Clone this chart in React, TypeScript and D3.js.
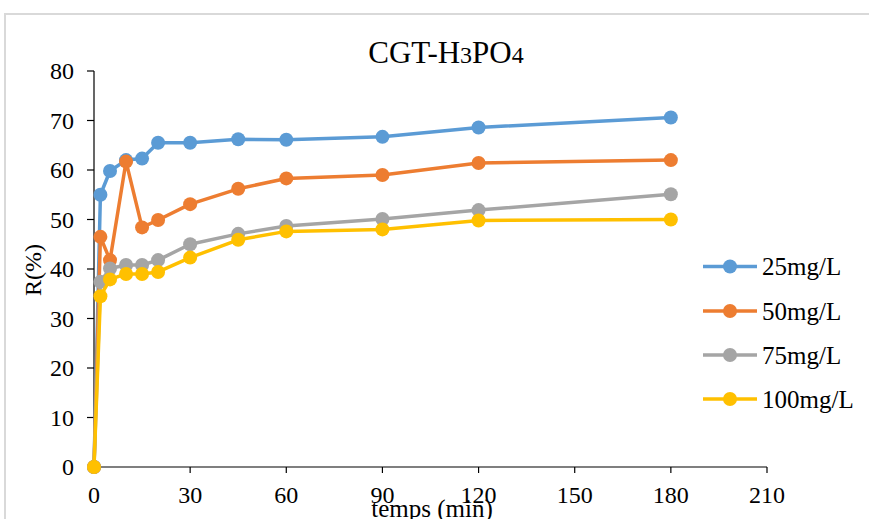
import React from "react";
import * as d3 from "d3";

// Contact time (min) and removal efficiency R(%) for each initial concentration
const times = [0, 2, 5, 10, 15, 20, 30, 45, 60, 90, 120, 180];
const r25 = [0, 55.0, 59.8, 62.0, 62.3, 65.5, 65.5, 66.2, 66.1, 66.7, 68.6, 70.6];
const r50 = [0, 46.5, 41.8, 61.7, 48.4, 49.9, 53.1, 56.2, 58.3, 59.0, 61.4, 62.0];
const r75 = [0, 37.4, 40.1, 40.8, 40.8, 41.8, 45.0, 47.1, 48.7, 50.1, 51.9, 55.1];
const r100 = [0, 34.5, 37.9, 39.0, 39.0, 39.4, 42.3, 45.9, 47.6, 48.0, 49.8, 50.0];

const seriesNames = ["25mg/L", "50mg/L", "75mg/L", "100mg/L"];
const seriesColors = ["#5B9BD5", "#ED7D31", "#A5A5A5", "#FFC000"];
const seriesValues = [r25, r50, r75, r100];

const xTicks = [0, 30, 60, 90, 120, 150, 180, 210];
const yTicks = [0, 10, 20, 30, 40, 50, 60, 70, 80];

const W = 869;
const H = 519;
const FONT = "'Liberation Serif', 'Times New Roman', serif";

export default function App() {
  const x = d3.scaleLinear().domain([0, 210]).range([94, 767]);
  const y = d3.scaleLinear().domain([0, 80]).range([467, 71]);

  const line = d3
    .line<number>()
    .x((_, i) => x(times[i]))
    .y((v) => y(v))
    .curve(d3.curveLinear);

  const legendY = [266.5, 311, 355, 399];

  return (
    <svg
      width={W}
      height={H}
      style={{ position: "absolute", left: 0, top: 0, background: "#fff" }}
      fontFamily={FONT}
    >
      {/* chart frame */}
      <rect x={5} y={14} width={W + 10} height={H + 10} fill="#fff" stroke="#d9d9d9" strokeWidth={2} />

      {/* title */}
      <text x={446} y={63} textAnchor="middle" fontSize={31} fill="#000">
        CGT-H<tspan fontSize={24}>3</tspan>PO<tspan fontSize={24}>4</tspan>
      </text>

      {/* y axis */}
      <line x1={x(0)} x2={x(0)} y1={y(80)} y2={y(0)} stroke="#000" strokeWidth={1.2} />
      {yTicks.map((t) => (
        <g key={"y" + t}>
          <line x1={x(0) - 7} x2={x(0)} y1={y(t)} y2={y(t)} stroke="#000" strokeWidth={1.2} />
          <text x={74} y={y(t)} dy="0.34em" textAnchor="end" fontSize={24} fill="#000">
            {t}
          </text>
        </g>
      ))}

      {/* x axis */}
      <line x1={x(0)} x2={x(210)} y1={y(0)} y2={y(0)} stroke="#000" strokeWidth={1.2} />
      {xTicks.map((t) => (
        <g key={"x" + t}>
          <line x1={x(t)} x2={x(t)} y1={y(0)} y2={y(0) + 6} stroke="#000" strokeWidth={1.2} />
          <text x={x(t)} y={503} textAnchor="middle" fontSize={24} fill="#000">
            {t}
          </text>
        </g>
      ))}

      {/* axis titles */}
      <text x={432} y={517} textAnchor="middle" fontSize={25} fill="#000">
        temps (min)
      </text>
      <text
        transform={`translate(41,270) rotate(-90)`}
        textAnchor="middle"
        fontSize={24}
        fill="#000"
      >
        R(%)
      </text>

      {/* series */}
      {seriesValues.map((vals, s) => (
        <g key={seriesNames[s]}>
          <path d={line(vals) || ""} fill="none" stroke={seriesColors[s]} strokeWidth={3.5} strokeLinejoin="round" />
          {vals.map((v, i) => (
            <circle key={i} cx={x(times[i])} cy={y(v)} r={7} fill={seriesColors[s]} />
          ))}
        </g>
      ))}

      {/* legend */}
      {seriesNames.map((name, s) => (
        <g key={"lg" + name}>
          <line x1={703} x2={757} y1={legendY[s]} y2={legendY[s]} stroke={seriesColors[s]} strokeWidth={3.5} />
          <circle cx={730} cy={legendY[s]} r={7} fill={seriesColors[s]} />
          <text x={762} y={legendY[s]} dy="0.34em" fontSize={25} fill="#000">
            {name}
          </text>
        </g>
      ))}
    </svg>
  );
}
